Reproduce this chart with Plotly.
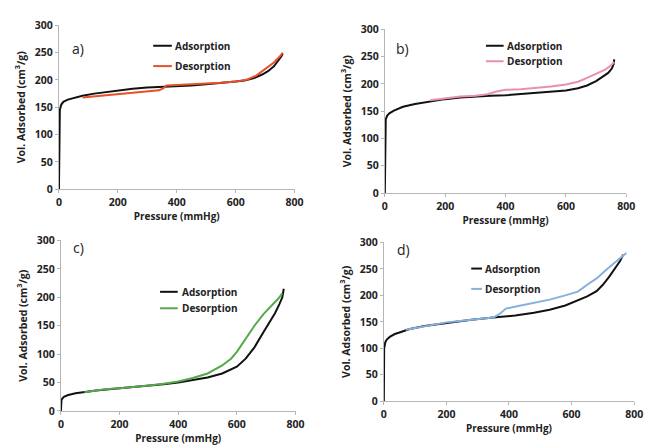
import plotly.graph_objects as go

# Panel a
a_ads_x = [0, 0.5, 1, 3, 8, 15, 30, 55, 80, 120, 160, 200, 250, 300, 350, 400, 450, 500, 550, 600, 630, 660, 690, 710, 730, 745, 755, 760]
a_ads_y = [0, 60, 110, 145, 155, 160, 164, 168, 171, 175, 178, 181, 184, 186, 187, 189, 190, 192, 194, 197, 199, 203, 210, 216, 225, 235, 243, 248]
a_des_x = [80, 120, 160, 200, 250, 300, 340, 355, 365, 400, 450, 500, 550, 600, 640, 670, 700, 730, 750, 760]
a_des_y = [168, 170, 172, 174, 176, 178, 181, 185, 190, 191, 192, 193, 195, 197, 201, 208, 220, 232, 243, 250]

# Panel b
b_ads_x = [0, 0.5, 1, 3, 8, 15, 30, 60, 100, 150, 200, 250, 300, 350, 400, 450, 500, 550, 600, 640, 670, 700, 720, 740, 752, 758, 760]
b_ads_y = [0, 60, 125, 135, 142, 146, 151, 158, 163, 168, 172, 175, 177, 178, 179, 181, 183, 185, 188, 192, 197, 205, 212, 220, 228, 236, 245]
b_des_x = [150, 200, 250, 300, 340, 370, 400, 450, 500, 550, 600, 640, 670, 700, 730, 750, 760]
b_des_y = [170, 174, 177, 178, 181, 186, 189, 190, 192, 195, 199, 204, 211, 218, 226, 234, 240]

# Panel c
c_ads_x = [0, 0.5, 2, 10, 25, 50, 80, 120, 200, 250, 300, 350, 400, 450, 500, 550, 600, 630, 660, 690, 710, 730, 745, 755, 760]
c_ads_y = [0, 10, 20, 25, 28, 31, 33, 36, 40, 42, 45, 47, 50, 54, 59, 66, 78, 92, 112, 138, 155, 172, 188, 200, 215]
c_des_x = [80, 150, 200, 250, 300, 350, 400, 450, 500, 550, 580, 600, 630, 660, 690, 720, 740, 755]
c_des_y = [33, 38, 40, 42, 45, 48, 52, 58, 66, 80, 92, 104, 127, 150, 170, 186, 197, 207]

# Panel d
d_ads_x = [0, 0.5, 1, 5, 10, 20, 35, 50, 80, 130, 200, 280, 350, 420, 480, 530, 580, 620, 650, 680, 700, 720, 740, 755, 765]
d_ads_y = [0, 50, 100, 112, 117, 122, 127, 130, 136, 142, 148, 154, 158, 162, 167, 173, 181, 190, 198, 208, 220, 235, 253, 265, 277]
d_des_x = [70, 130, 200, 250, 300, 350, 370, 390, 430, 480, 530, 580, 620, 650, 680, 710, 740, 760, 775]
d_des_y = [135, 142, 149, 152, 155, 158, 165, 175, 180, 186, 192, 200, 207, 220, 232, 248, 262, 272, 280]

x_ticks = [0, 200, 400, 600, 800]
y_ticks = [0, 50, 100, 150, 200, 250, 300]
series_names = ["Adsorption", "Desorption"]

panels = [
    ("a)", a_ads_x, a_ads_y, a_des_x, a_des_y, "#E8502A"),
    ("b)", b_ads_x, b_ads_y, b_des_x, b_des_y, "#E890AE"),
    ("c)", c_ads_x, c_ads_y, c_des_x, c_des_y, "#55A84B"),
    ("d)", d_ads_x, d_ads_y, d_des_x, d_des_y, "#86B0DE"),
]

W, H = 651, 448
# plot area pixels: x0, x1, ytop, ybottom
geom = [
    (57, 297, 19, 188),
    (389, 635, 23, 192),
    (59, 298, 241, 417),
    (388, 643, 243, 407),
]
# legend: line x0, line x1, text x, y of first row, y of second row
legend_geom = [
    (153, 172, 173, 40, 61),
    (492, 510, 511, 40, 56),
    (160, 178, 180, 294, 311),
    (477, 488, 489, 270, 291),
]
label_pos = [(76, 43), (407, 43), (77, 248), (408, 250)]

FONT = "Open Sans"
BOLD = dict(family=FONT, color="#222", weight=700)
fig = go.Figure()
layout = dict(
    width=W, height=H, margin=dict(l=0, r=0, t=0, b=0),
    paper_bgcolor="white", plot_bgcolor="white",
    font=dict(family=FONT, color="#222"),
    showlegend=False,
)
annotations = []
shapes = []
for i, (lab, ax, ay, dx, dy, col) in enumerate(panels):
    n = "" if i == 0 else str(i + 1)
    fig.add_trace(go.Scatter(x=ax, y=ay, mode="lines", name=series_names[0],
                             line=dict(color="#111111", width=2),
                             xaxis="x" + n, yaxis="y" + n))
    fig.add_trace(go.Scatter(x=dx, y=dy, mode="lines", name=series_names[1],
                             line=dict(color=col, width=2),
                             xaxis="x" + n, yaxis="y" + n))
    x0, x1, yt, yb = geom[i]
    axis_common = dict(showgrid=False, zeroline=False, showline=True,
                       linecolor="#b5b5b5", linewidth=1, ticks="outside",
                       ticklen=3, tickcolor="#b5b5b5",
                       tickfont=dict(BOLD, size=10.5))
    layout["xaxis" + n] = dict(axis_common, domain=[x0 / W, x1 / W], range=[0, 800],
                               tickvals=x_ticks, anchor="y" + n,
                               title=dict(text="Pressure (mmHg)", standoff=5,
                                          font=dict(BOLD, size=10)))
    layout["yaxis" + n] = dict(axis_common, domain=[1 - yb / H, 1 - yt / H], range=[0, 300],
                               tickvals=y_ticks, anchor="x" + n,
                               title=dict(text="Vol. Adsorbed (cm<sup>3</sup>/g)", standoff=7,
                                          font=dict(BOLD, size=10.5)))
    lx0, lx1, tx, r1, r2 = legend_geom[i]
    for (yy, c, name) in [(r1, "#111111", series_names[0]), (r2, col, series_names[1])]:
        shapes.append(dict(type="line", xref="paper", yref="paper",
                           x0=lx0 / W, x1=lx1 / W, y0=1 - yy / H, y1=1 - yy / H,
                           line=dict(color=c, width=2)))
        annotations.append(dict(text=name, x=tx / W, y=1 - yy / H, xref="paper", yref="paper",
                                showarrow=False, xanchor="left", yanchor="middle",
                                font=dict(BOLD, size=10)))
    px, py = label_pos[i]
    annotations.append(dict(text=lab, x=px / W, y=1 - py / H, xref="paper", yref="paper",
                            showarrow=False, xanchor="center", yanchor="middle",
                            font=dict(family=FONT, size=14, color="#222")))
layout["annotations"] = annotations
layout["shapes"] = shapes
fig.update_layout(**layout)
fig.write_html("out.html")
